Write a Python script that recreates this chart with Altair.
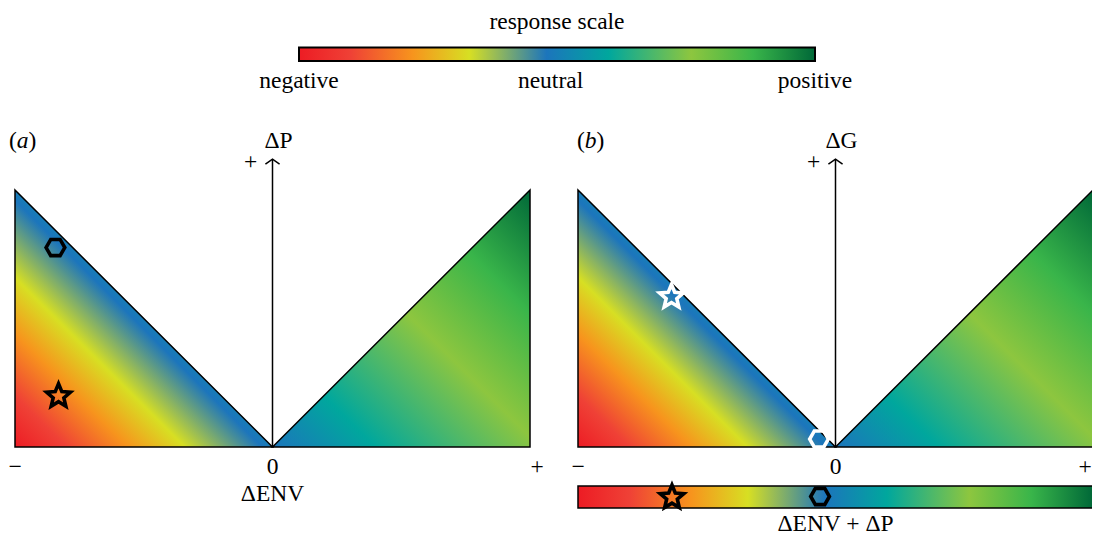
import altair as alt
import pandas as pd

# ---------------- data ----------------
RESPONSE_OFFSETS = [0.00, 0.10, 0.22, 0.33, 0.48, 0.60, 0.76, 0.88, 1.00]
RESPONSE_COLORS = ["#ed1c24", "#ef4136", "#f7941d", "#d7df23", "#1c75bc",
                   "#00a79d", "#8dc63f", "#39b54a", "#006838"]
SCALE_TITLE = "response scale"
SCALE_LABELS = ["negative", "neutral", "positive"]
SCALE_LABEL_POS = [-1.0, -0.025, 1.0]

NEG_ENV = [-1.0, 0.0]
NEG_TOP = [1.0, 0.0]
POS_ENV = [0.0, 1.0]
POS_TOP = [0.0, 1.0]
BASE = [0.0, 0.0]
AXIS_TOP = 1.12

TICK_LABELS = ["\u2212", "0"]
TICK_POS = [-1.0, 0.0]
PLUS_LABEL = "+"
PLUS_POS = 1.0

PANEL_TAGS = ["a", "b"]
Y_TITLES = ["\u0394P", "\u0394G"]
X_TITLE_A = "\u0394ENV"
BAR_TITLE = "\u0394ENV + \u0394P"

A_HEX = [-0.843, 0.776]
A_STAR = [-0.831, 0.198]
B_HEX = [-0.064, 0.031]
B_STAR = [-0.637, 0.584]
BAR_HEX = -0.060
BAR_STAR = -0.635

# ---------------- style ----------------
FONT = "Liberation Serif"
FS = 23.5
STAR = ("M0,-1L0.2645,-0.3641L0.9511,-0.309L0.428,0.139L0.5878,0.809L0,0.45"
        "L-0.5878,0.809L-0.428,0.139L-0.9511,-0.309L-0.2645,-0.3641Z")
HEX = "M-1,0L-0.5,-0.866L0.5,-0.866L1,0L0.5,0.866L-0.5,0.866Z"
CHEVRON = "M-1,0.7L0,0L1,0.7"


def gradient(offsets, colors, x1, y1, x2, y2):
    return alt.Gradient(
        gradient="linear",
        stops=[alt.GradientStop(color=c, offset=o) for o, c in zip(offsets, colors)],
        x1=x1, y1=y1, x2=x2, y2=y2,
    )


neg_grad = gradient(RESPONSE_OFFSETS, RESPONSE_COLORS, 0, 1, 1, 0)
pos_pairs = [(0.0, RESPONSE_COLORS[4])] + [
    (2 * (o - 0.5), c) for o, c in zip(RESPONSE_OFFSETS, RESPONSE_COLORS) if o > 0.5
]
pos_grad = gradient([p[0] for p in pos_pairs], [p[1] for p in pos_pairs], 0, 1, 1, 0)
bar_grad = gradient(RESPONSE_OFFSETS, RESPONSE_COLORS, 0, 0, 1, 0)

YS = alt.Scale(domain=[0, 1], range=[439, 182])
XT = alt.Scale(domain=[-1, 1], range=[291, 807])
XA = alt.Scale(domain=[-1, 1], range=[7, 522])
XB = alt.Scale(domain=[-1, 1], range=[570, 1085])


def xenc(xs):
    return alt.X("x:Q", scale=xs, axis=None)


def yenc():
    return alt.Y("y:Q", scale=YS, axis=None)


def text(df, xs, y, **kw):
    props = dict(font=FONT, fontSize=FS, color="black", baseline="alphabetic", align="center")
    props.update(kw)
    return alt.Chart(df).mark_text(**props).encode(x=xenc(xs), y=y, text="t:N")


def one(x, y, t=""):
    return pd.DataFrame({"x": [x], "y": [y], "t": [t]})


def marker(df, xs, y, shape, size, color):
    return alt.Chart(df).mark_point(
        shape=shape, size=size, filled=False, color=color, strokeWidth=3.6, opacity=1
    ).encode(x=xenc(xs), y=y)


HEX_SIZE = 350
STAR_SIZE = 620

# ---------------- top response scale ----------------
top_bar = alt.Chart(pd.DataFrame({"x": [-1.0], "x2": [1.0]})).mark_rect(
    color=bar_grad, stroke="black", strokeWidth=2
).encode(x=xenc(XT), x2="x2:Q", y=alt.value(39.5), y2=alt.value(53))
top_labels = text(pd.DataFrame({"x": SCALE_LABEL_POS, "y": [0] * 3, "t": SCALE_LABELS}),
                  XT, alt.value(80))
top_title = text(one(0.0, 0, SCALE_TITLE), XT, alt.value(21))
top = alt.layer(top_bar, top_labels, top_title)


def panel(xs, tag, ytitle, tag_dx, hex_xy, star_xy, mcolor, plus_dx):
    tri_neg = alt.Chart(pd.DataFrame({"x": NEG_ENV, "y": NEG_TOP, "y2": BASE})).mark_area(
        color=neg_grad, stroke="black", strokeWidth=1.5, opacity=1
    ).encode(x=xenc(xs), y=yenc(), y2="y2:Q")
    tri_pos = alt.Chart(pd.DataFrame({"x": POS_ENV, "y": POS_TOP, "y2": BASE})).mark_area(
        color=pos_grad, stroke="black", strokeWidth=1.5, opacity=1
    ).encode(x=xenc(xs), y=yenc(), y2="y2:Q")
    rule = alt.Chart(pd.DataFrame({"x": [0.0], "y": [0.0], "y2": [AXIS_TOP]})).mark_rule(
        color="black", strokeWidth=1.5
    ).encode(x=xenc(xs), y=yenc(), y2="y2:Q")
    head = alt.Chart(one(0.0, AXIS_TOP)).mark_point(
        shape=CHEVRON, size=200, filled=False, color="black", strokeWidth=1.5, opacity=1
    ).encode(x=xenc(xs), y=yenc())
    ylab = text(one(0.0, AXIS_TOP, ytitle), xs, yenc(), dx=6, dy=-11)
    plus_top = text(one(0.0, AXIS_TOP, PLUS_LABEL), xs, yenc(), dx=-22, dy=10)
    t1 = text(one(-1.0, AXIS_TOP, "("), xs, yenc(), align="left", dx=tag_dx, dy=-11)
    t2 = text(one(-1.0, AXIS_TOP, tag), xs, yenc(), align="left", dx=tag_dx + 7.8, dy=-11,
              fontStyle="italic")
    t3 = text(one(-1.0, AXIS_TOP, ")"), xs, yenc(), align="left", dx=tag_dx + 19.6, dy=-11)
    ticks = text(pd.DataFrame({"x": TICK_POS, "y": [0.0] * 2, "t": TICK_LABELS}), xs, yenc(), dy=27)
    plus = text(one(PLUS_POS, 0.0, PLUS_LABEL), xs, yenc(), dx=plus_dx, dy=27)
    m_hex = marker(one(hex_xy[0], hex_xy[1]), xs, yenc(), HEX, HEX_SIZE, mcolor)
    m_star = marker(one(star_xy[0], star_xy[1]), xs, yenc(), STAR, STAR_SIZE, mcolor)
    return [tri_neg, tri_pos, rule, head, ylab, plus_top, t1, t2, t3, ticks, plus, m_hex, m_star]


pa_layers = panel(XA, PANEL_TAGS[0], Y_TITLES[0], -6, A_HEX, A_STAR, "black", 7)
pa_layers.append(text(one(0.0, 0.0, X_TITLE_A), XA, yenc(), dy=54))
pa = alt.layer(*pa_layers)

pb_layers = panel(XB, PANEL_TAGS[1], Y_TITLES[1], -1, B_HEX, B_STAR, "white", -8)
bbar = alt.Chart(pd.DataFrame({"x": [-1.0], "x2": [1.0]})).mark_rect(
    color=bar_grad, stroke="black", strokeWidth=1.5
).encode(x=xenc(XB), x2="x2:Q", y=alt.value(478), y2=alt.value(500))
pb_layers.append(bbar)
pb_layers.append(marker(one(BAR_HEX, 0), XB, alt.value(488.5), HEX, HEX_SIZE, "black"))
pb_layers.append(marker(one(BAR_STAR, 0), XB, alt.value(489.5), STAR, STAR_SIZE, "black"))
pb_layers.append(text(one(0.0, 0, BAR_TITLE), XB, alt.value(523)))
pb = alt.layer(*pb_layers)

chart = alt.layer(top, pa, pb).resolve_scale(x="independent", y="independent").properties(
    width=1084, height=528, autosize=alt.AutoSizeParams(type="none"), padding=0
).configure_view(strokeOpacity=0)

chart.save("out.html", embed_options={"renderer": "svg", "actions": False})
